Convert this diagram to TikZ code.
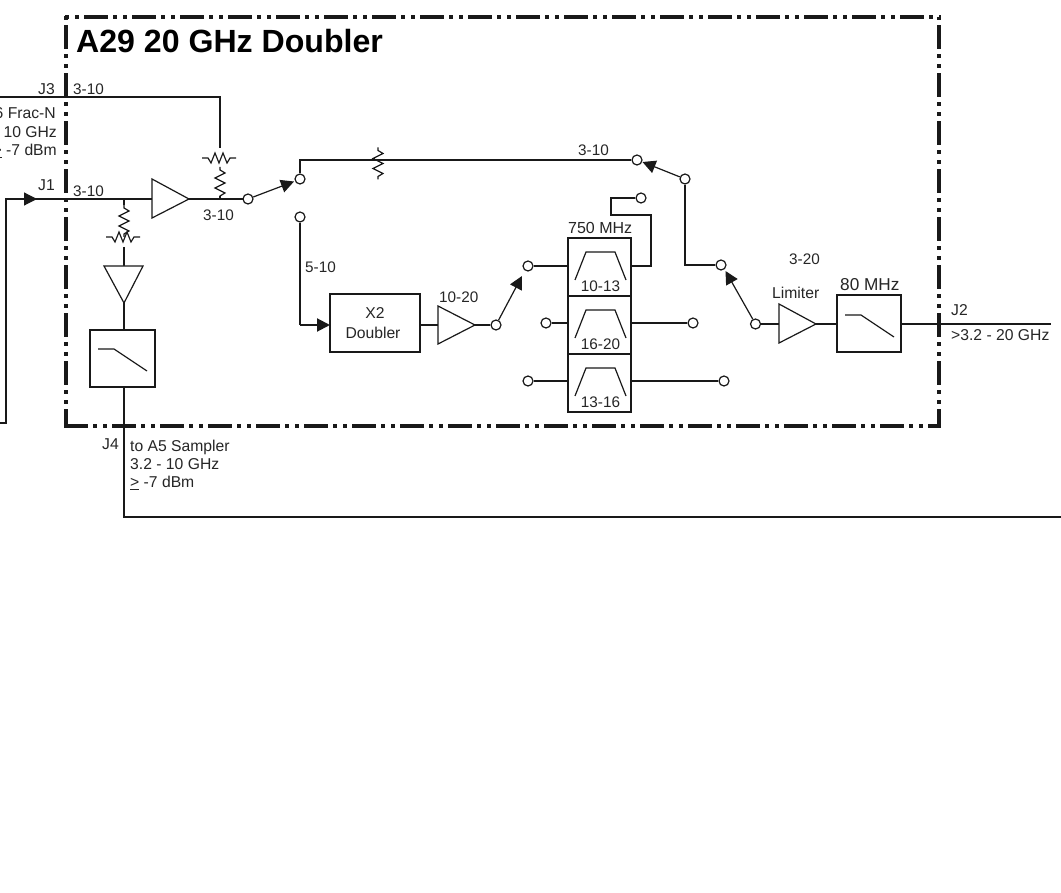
\documentclass[tikz,border=0pt]{standalone}
\usepackage{fontspec}
\setmainfont{Liberation Sans}
\usetikzlibrary{arrows.meta,calc}
\tikzset{
  wire/.style={line width=1.2pt,draw=black!90,line join=miter},
  thick wire/.style={line width=2pt,draw=black!90},
  frameline/.style={line width=4pt,draw=black!90,dash pattern=on 24pt off 5pt on 4pt off 6pt on 4pt off 5pt},
  term/.style={circle,draw=black!90,fill=white,line width=1.2pt,minimum size=10pt,inner sep=0pt},
  blockbox/.style={draw=black!90,line width=1.2pt,fill=white,inner sep=0pt},
  filterbox/.style={draw=black!90,line width=1.2pt,inner sep=0pt,minimum width=63pt,minimum height=58pt},
  lbl/.style={anchor=base west,inner sep=0pt,yshift=-0.8pt,font=\fontsize{15.7}{18}\selectfont,text=black!85},
  lblnum/.style={lbl,font=\fontsize{15.3}{18}\selectfont},
  lblr/.style={lbl,anchor=base east},
  lblc/.style={lblnum,anchor=base},
  tip/.style={-{Triangle[length=13pt,width=13pt]}},
  hres/.pic={\draw[wire] (-17,0)--(-11,0)--(-8,5)--(-4,-5)--(0,5)--(4,-5)--(8,5)--(11,0)--(17,0);},
  vres/.pic={\draw[wire] (0,-16)--(0,-13)--(5,-10)--(-5,-5)--(5,0)--(-5,5)--(5,10)--(0,13)--(0,16);},
  bandpass/.pic={\draw[wire] (-25,14)--(-14,-14)--(15,-14)--(26,14);},
  lowpass/.pic={\draw[wire] (-24,-9)--(-8,-9)--(25,13);}
}
\begin{document}
\begin{tikzpicture}[x=1pt,y=-1pt]
\useasboundingbox (0,0) rectangle (1061,893);
\fill[white] (0,0) rectangle (1061,893);

% coordinates
\coordinate (j3w) at (0,97);
\coordinate (j3e) at (220,97);
\coordinate (shuntA) at (220,148);
\coordinate (feedb) at (6,423);
\coordinate (feedbw) at (0,423);
\coordinate (feedt) at (6,199);
\coordinate (ampAin) at (152,199);
\coordinate (ampAout) at (189,199);
\coordinate (ampBin) at (124,266);
\coordinate (ampBout) at (124,303);
\coordinate (ampCin) at (438,325);
\coordinate (ampCout) at (475,325);
\coordinate (ampDin) at (779,324);
\coordinate (ampDout) at (816,324);
\coordinate (tapj) at (124,199);
\coordinate (padj) at (220,199);
\coordinate (j4corner) at (124,517);
\coordinate (j4east) at (1061,517);
\coordinate (j2east) at (1051,324);
\coordinate (dblin) at (330,325);
\coordinate (dblbend) at (300,325);

% signal wires under the blocks
\draw[wire] (j3w)--(j3e)--(shuntA);
\draw[wire] (feedbw)--(feedb)--(feedt)--(ampAin);
\draw[tip,wire] (feedt)--(37,199);
\draw[wire] (tapj)--(124,205);
\draw[wire] (ampAout)--(243,199);
\draw[wire] (padj)--(220,196);
\draw[wire] (124,247)--(ampBin);

% frame
\draw[frameline,dash phase=7pt] (66,426)--(66,15);
\draw[frameline,dash phase=28pt] (64,17)--(941,17);
\draw[frameline] (64,426)--(941,426);
\draw[frameline,dash phase=7pt] (939,426)--(939,17);

% terminals
\node[term] (t1) at (248,199) {};
\node[term] (t2) at (300,179) {};
\node[term] (t3) at (300,217) {};
\node[term] (t4) at (637,160) {};
\node[term] (t5) at (685,179) {};
\node[term] (t6) at (641,198) {};
\node[term] (t7) at (496,325) {};
\node[term] (t8) at (528,266) {};
\node[term] (t9) at (546,323) {};
\node[term] (t10) at (528,381) {};
\node[term] (t11) at (693,323) {};
\node[term] (t12) at (724,381) {};
\node[term] (t13) at (721,265) {};
\node[term] (t14) at (755.5,324) {};

% blocks
\node[blockbox,line width=1.8pt,minimum width=90pt,minimum height=58pt] (dbl) at (375,323) {};
\node[filterbox] (f1) at (599.5,267) {};
\node[filterbox] (f2) at (599.5,325) {};
\node[filterbox] (f3) at (599.5,383) {};
\node[blockbox,minimum width=64pt,minimum height=57pt] (lpR) at (869,323.5) {};
\node[blockbox,minimum width=65pt,minimum height=57pt] (lpL) at (122.5,358.5) {};

% amplifiers
\draw[wire,fill=white] (152,179)--(ampAout)--(152,218)--cycle;
\draw[wire,fill=white] (104,266)--(ampBout)--(143,266)--cycle;
\draw[wire,fill=white] (438,306)--(ampCout)--(438,344)--cycle;
\draw[wire,fill=white] (779,304)--(ampDout)--(779,343)--cycle;

% resistors
\pic at (219,158) {hres};
\pic at (220,183) {vres};
\pic at (124,221) {vres};
\pic at (123,237) {hres};
\pic at (378,163.5) {vres};

% filters
\pic at (600,266) {bandpass};
\pic at (600,324) {bandpass};
\pic at (600,382) {bandpass};
\pic at (869,324) {lowpass};
\pic at (122,358) {lowpass};

% connectors
\draw[wire] (ampBout)--(lpL.north -| ampBout);
\draw[wire] (lpL.south -| j4corner)--(j4corner)--(j4east);
\draw[tip,wire] (t1)--(294,181.5);
\draw[wire] (t2)--(t2 |- t4)--(t4);
\draw[wire] (t3)--(dblbend);
\draw[tip,thick wire] (dblbend)--(dblin);
\draw[thick wire] (dblin -| dbl.east)--(ampCin);
\draw[thick wire] (ampCout)--(t7);
\draw[tip,wire] (t7)--(522,276);
\draw[wire] (t8)--(t8 -| f1.west);
\draw[wire] (t9)--(t9 -| f2.west);
\draw[wire] (t10)--(t10 -| f3.west);
\draw[wire] (t6)--(611,198)--(611,215)--(651,215)--(651,266)--(f1.east |- t8);
\draw[wire] (f2.east |- t11)--(t11);
\draw[wire] (f3.east |- t12)--(t12);
\draw[tip,wire] (t5)--(642.5,162);
\draw[wire] (t5)--(t5 |- t13)--(t13);
\draw[tip,wire] (t14)--(725.5,271);
\draw[wire] (t14)--(ampDin);
\draw[wire] (ampDout)--(lpR.west |- ampDout);
\draw[wire] (lpR.east |- j2east)--(j2east);

% title and labels
\node[anchor=base west,inner sep=0pt,font=\fontsize{32.1}{34}\selectfont\bfseries,text=black] (title) at (76,53) {A29 20 GHz Doubler};
\node[lbl] (lj3) at (38,94) {J3};
\node[lblnum] (l1) at (73,94) {3-10};
\node[lblr] (s1) at (56,118) {6 Frac-N};
\node[lblr] (s2) at (57,137) {10 GHz};
\node[lblr] (s3) at (57,155) {\underline{>} -7 dBm};
\node[lbl] (lj1) at (38,190) {J1};
\node[lblnum] (l2) at (73,196) {3-10};
\node[lblnum] (l3) at (203,220) {3-10};
\node[lblnum] (l4) at (305,272) {5-10};
\node[lblnum] (l5) at (439,302) {10-20};
\node[lbl,font=\fontsize{16}{18}\selectfont] (l6) at (568,233) {750 MHz};
\node[lblnum] (l7) at (578,155) {3-10};
\node[lblnum] (l8) at (789,264) {3-20};
\node[lbl] (l9) at (772,298) {Limiter};
\node[lbl,font=\fontsize{17.2}{18}\selectfont] (l10) at (840,290) {80 MHz};
\node[lbl] (lj2) at (951,315) {J2};
\node[lbl] (l11) at (951,340) {>3.2 - 20 GHz};
\node[lbl,anchor=base] (d1) at (375,318) {X2};
\node[lbl,anchor=base] (d2) at (373,338) {Doubler};
\node[lblc] (b1) at (600.5,291) {10-13};
\node[lblc] (b2) at (600.5,349) {16-20};
\node[lblc] (b3) at (600.5,407) {13-16};
\node[lbl] (lj4) at (102,449) {J4};
\node[lbl] (o1) at (130,451) {to A5 Sampler};
\node[lbl] (o2) at (130,469) {3.2 - 10 GHz};
\node[lbl] (o3) at (130,487) {\underline{>} -7 dBm};
\end{tikzpicture}
\end{document}
